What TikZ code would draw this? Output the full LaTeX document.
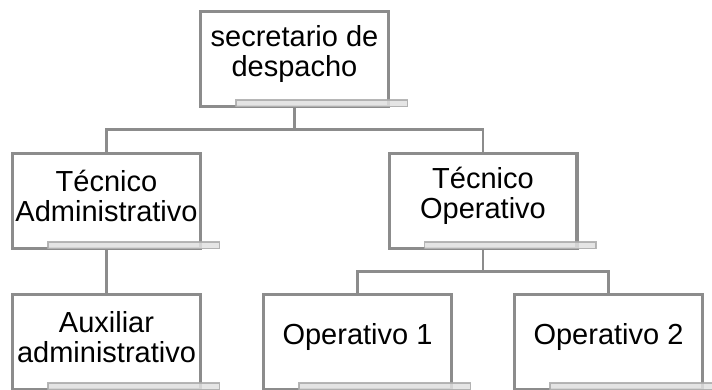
\documentclass[tikz,border=0pt]{standalone}
\usepackage{fontspec}
\setmainfont{Liberation Sans}
\definecolor{boxgray}{RGB}{140,140,140}
\definecolor{barfill}{RGB}{224,224,224}
\definecolor{barline}{RGB}{170,170,170}
\tikzset{
    orgbox/.style={draw=boxgray, line width=3.4pt, fill=white, minimum width=187.6pt, minimum height=94.6pt, inner sep=0pt},
    orgtext/.style={align=center, inner sep=0pt, font=\fontsize{29}{30}\selectfont},
    orgline/.style={draw=boxgray, line width=2.8pt},
    bar/.style={draw=barline, fill=barfill, line width=1.8pt, opacity=0.85}
}
\begin{document}
\begin{tikzpicture}[x=1pt, y=-1pt]
        \useasboundingbox (0,0) rectangle (712,389);
        \clip (0,0) rectangle (712,389);
        % cajas
        \node [orgbox] (sec) at (294.5,59) {};
        \node [orgbox] (tadm) at (106.5,201) {};
        \node [orgbox] (top) at (483,201) {};
        \node [orgbox] (aux) at (106.5,342) {};
        \node [orgbox] (op1) at (357.5,342) {};
        \node [orgbox] (op2) at (608.5,342) {};
        % barras
        \foreach \b in {sec,tadm,top,aux,op1,op2}
            \draw [bar] ([xshift=37pt,yshift=8pt]\b.south west) rectangle ([xshift=17.5pt,yshift=1.5pt]\b.south east);
        % textos
        \node [orgtext, yshift=5pt] (secT) at (sec.center) {secretario de\\despacho};
        \node [orgtext, yshift=5pt] (tadmT) at (tadm.center) {Técnico\\Administrativo};
        \node [orgtext, yshift=5pt] (topT) at (top.center) {Técnico\\Operativo};
        \node [orgtext, yshift=5pt] (auxT) at (aux.center) {Auxiliar\\administrativo};
        \node [orgtext, yshift=5pt] (op1T) at (op1.center) {Operativo 1};
        \node [orgtext, yshift=5pt] (op2T) at (op2.center) {Operativo 2};
        % lineas
        \draw [orgline] (sec.south) -- ++(0,21.5) -| (tadm.north);
        \draw [orgline] (sec.south) -- ++(0,21.5) -| (top.north);
        \draw [orgline] (tadm.south) -- (aux.north);
        \draw [orgline] (top.south) -- ++(0,21.5) -| (op1.north);
        \draw [orgline] (top.south) -- ++(0,21.5) -| (op2.north);
    \end{tikzpicture}
\end{document}
